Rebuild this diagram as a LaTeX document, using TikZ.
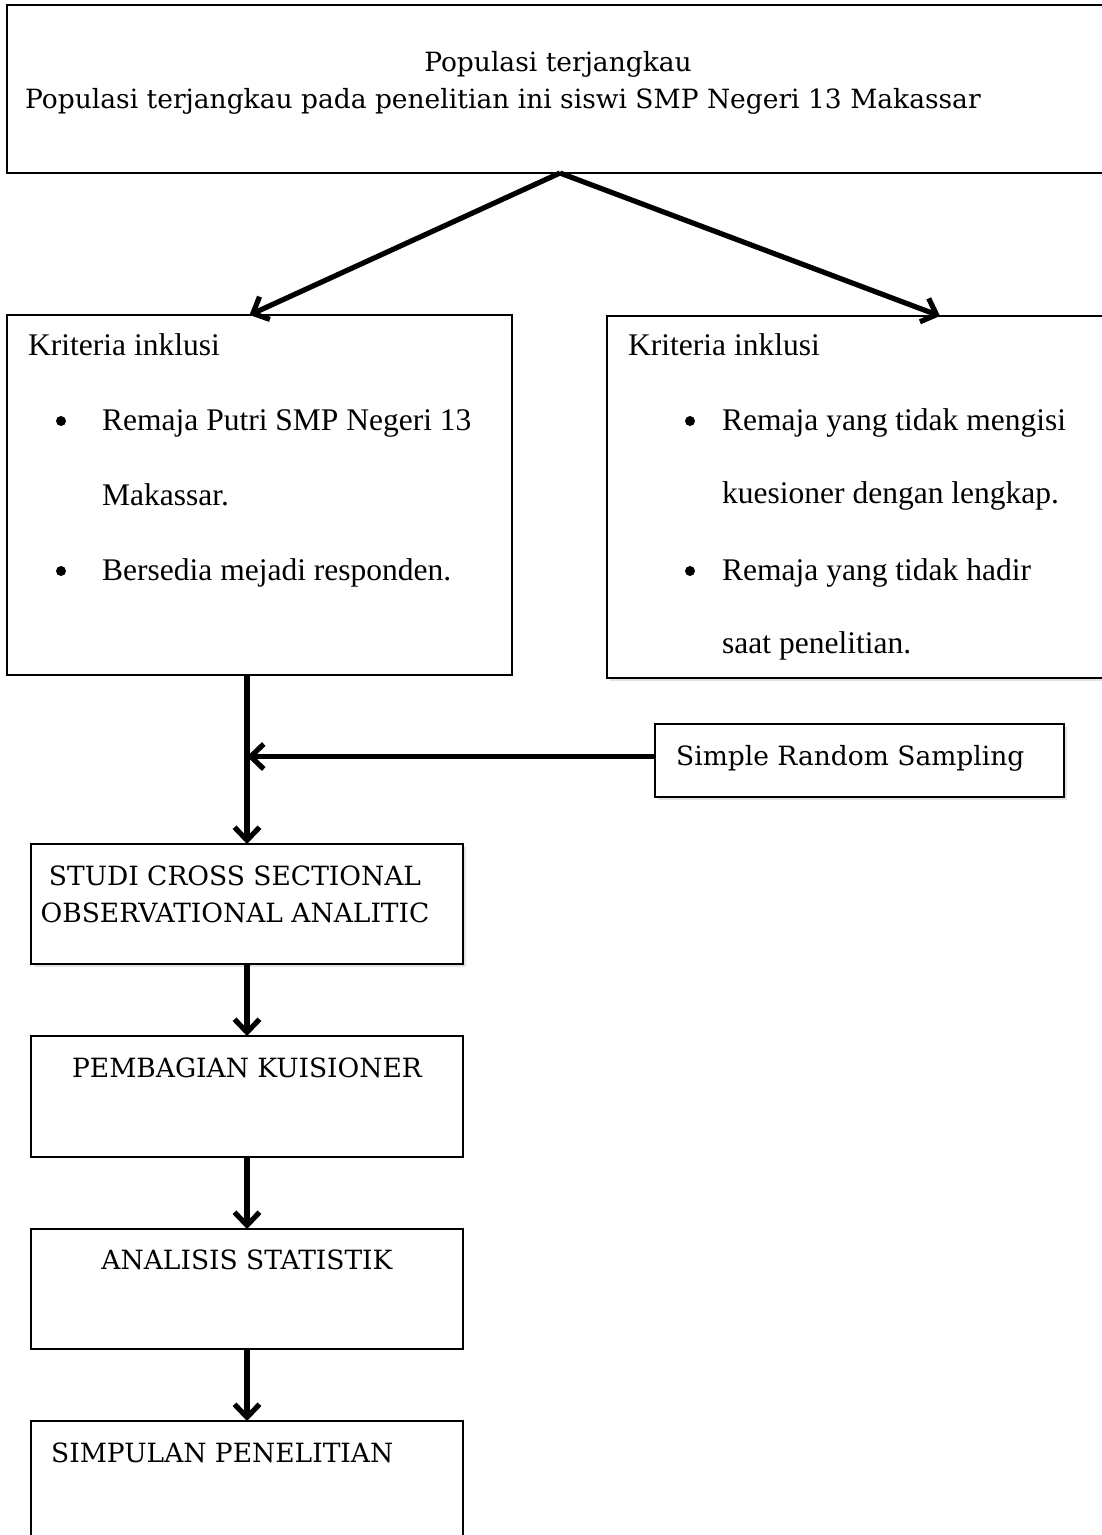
\documentclass[tikz,border=0pt]{standalone}
\usepackage{fontspec}
\setmainfont{Liberation Serif}
\newfontfamily\cambria{DejaVu Serif}
\usetikzlibrary{arrows.meta, positioning, shadows}
\newcommand{\Capfont}{\cambria\fontsize{26.5}{34}\selectfont}
\newcommand{\Critfont}{\fontsize{31.5}{38}\selectfont}
\tikzset{
    box/.style={draw, fill=white, rectangle, line width=1.8pt, inner sep=0pt, outer sep=0pt, anchor=north west},
    shade/.style={drop shadow={shadow xshift=2.5pt, shadow yshift=-2.5pt, opacity=.22}},
    flow/.style={line width=5.2pt, -{Straight Barb[length=13pt, width=25pt]}},
    capt/.style={font=\Capfont, inner sep=0pt, anchor=base west},
    crit/.style={font=\Critfont, inner sep=0pt, anchor=base west},
    dot/.style={circle, fill, inner sep=0pt, minimum size=10pt},
}

\begin{document}
\begin{tikzpicture}[x=1pt, y=-1pt, node distance=72pt]
    \useasboundingbox (0,0) rectangle (1102,1535);

    % populasi
    \node[box, minimum width=1106pt, minimum height=168pt] (pop) at (7,5) {};
    \node[capt, anchor=base] (pop-t) at (558,71) {Populasi terjangkau};
    \node[capt] (pop-d) at (25,108) {Populasi terjangkau pada penelitian ini siswi SMP Negeri 13 Makassar};

    % kriteria
    \node[box, minimum width=505pt, minimum height=360pt] (inkl) at (7,315) {};
    \node[crit] (inkl-t) at (28,355) {Kriteria inklusi};
    \node[dot] (inkl-b1) at (61,421) {};
    \node[crit] (inkl-1) at (102,430) {Remaja Putri SMP Negeri 13};
    \node[crit] (inkl-1b) at (102,505) {Makassar.};
    \node[dot] (inkl-b2) at (61,571) {};
    \node[crit] (inkl-2) at (102,580) {Bersedia mejadi responden.};

    \node[box, shade, minimum width=503pt, minimum height=362pt] (eksk) at (607,316) {};
    \node[crit] (eksk-t) at (628,355) {Kriteria inklusi};
    \node[dot] (eksk-b1) at (690,421) {};
    \node[crit] (eksk-1) at (722,430) {Remaja yang tidak mengisi};
    \node[crit] (eksk-1b) at (722,503) {kuesioner dengan lengkap.};
    \node[dot] (eksk-b2) at (690,571) {};
    \node[crit] (eksk-2) at (722,580) {Remaja yang tidak hadir};
    \node[crit] (eksk-2b) at (722,653) {saat penelitian.};

    \draw[flow] (pop.south) -- ([xshift=-10pt]inkl.north);
    \draw[flow] (pop.south) -- ([xshift=81.5pt]eksk.north);

    % sampling
    \node[box, shade, minimum width=409pt, minimum height=73pt] (srs) at (655,724) {};
    \node[capt] (srs-t) at (676,765) {Simple Random Sampling};

    % alur
    \node[box, shade, minimum width=432pt, minimum height=120pt] (studi) at (31,844) {};
    \node[capt, anchor=base] (studi-1) at ([xshift=-12pt, yshift=-41pt]studi.north) {STUDI CROSS SECTIONAL};
    \node[capt, anchor=base] (studi-2) at ([xshift=-12pt, yshift=-78pt]studi.north) {OBSERVATIONAL ANALITIC};

    \node[box, minimum width=432pt, minimum height=121pt, below=of studi] (bagi) {};
    \node[capt, anchor=base] (bagi-t) at ([yshift=-41pt]bagi.north) {PEMBAGIAN KUISIONER};

    \node[box, minimum width=432pt, minimum height=120pt, below=of bagi] (stat) {};
    \node[capt, anchor=base] (stat-t) at ([yshift=-40pt]stat.north) {ANALISIS STATISTIK};

    \node[box, minimum width=432pt, minimum height=120pt, below=of stat] (simp) {};
    \node[capt] (simp-t) at ([xshift=20pt, yshift=-41pt]simp.north west) {SIMPULAN PENELITIAN};

    \draw[flow] (inkl.south -| studi.north) -- (studi.north);
    \draw[flow] ([yshift=4pt]srs.west) -- ([yshift=4pt]srs.west -| studi.north);
    \draw[flow] (studi) -- (bagi);
    \draw[flow] (bagi) -- (stat);
    \draw[flow] (stat) -- (simp);
\end{tikzpicture}
\end{document}
